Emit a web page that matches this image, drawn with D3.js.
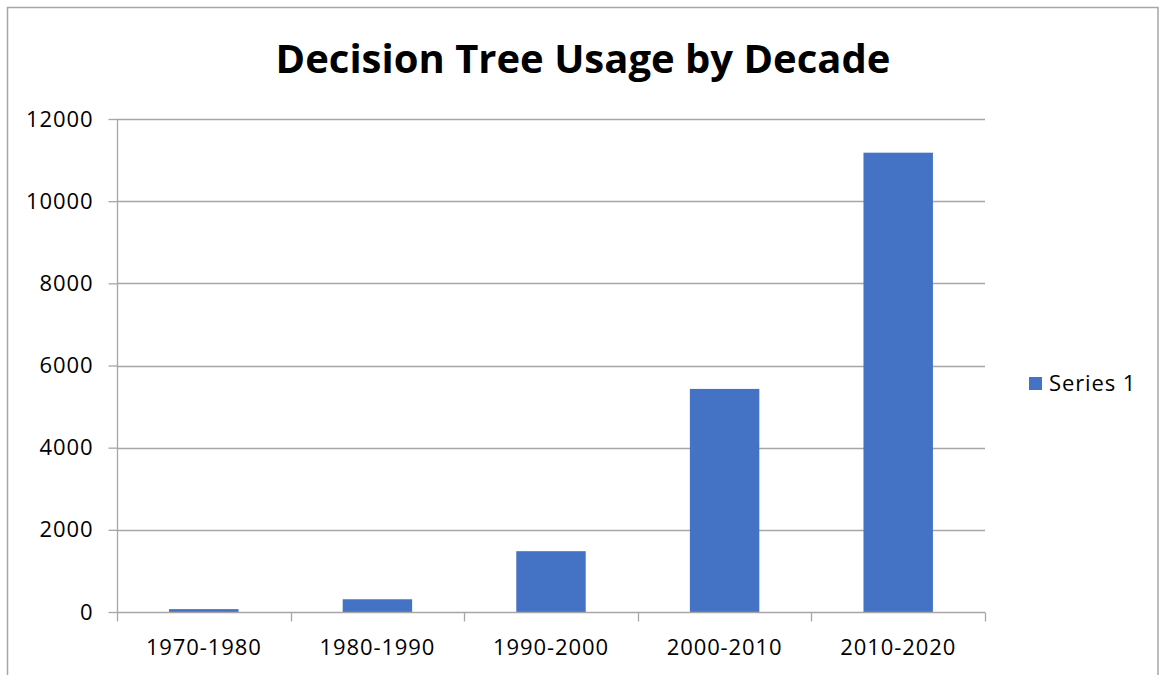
<!DOCTYPE html>
<html>
<head>
<meta charset="utf-8">
<script src="https://cdn.jsdelivr.net/npm/d3@7"></script>
<style>
  html, body { margin: 0; padding: 0; background: #fff; }
  svg { display: block; font-family: "Open Sans", "Liberation Sans", sans-serif; }
</style>
</head>
<body>
<svg id="chart" width="1161" height="675"></svg>
<script>
// Decision tree usage counts per decade
const decades = ["1970-1980", "1980-1990", "1990-2000", "2000-2010", "2010-2020"];
const usage = [70, 310, 1480, 5430, 11180];
const yTicks = [0, 2000, 4000, 6000, 8000, 10000, 12000];
const seriesName = "Series 1";
const chartTitle = "Decision Tree Usage by Decade";

const svg = d3.select("#chart");
const plot = { left: 117, right: 985, top: 119, bottom: 612 };
const barColor = "#4472C4";
const gridColor = "#A6A6A6";
const labelSize = 22;
const labelSpacing = "0.9px";

// outer chart frame
svg.append("rect")
  .attr("x", 7.5).attr("y", 7.5)
  .attr("width", 1150.5).attr("height", 680)
  .attr("fill", "#fff").attr("stroke", "#A6A6A6").attr("stroke-width", 1.5);

svg.append("text")
  .attr("x", 583).attr("y", 73)
  .attr("text-anchor", "middle")
  .attr("font-size", 40).attr("font-weight", 700)
  .attr("fill", "#000")
  .text(chartTitle);

const x = d3.scaleBand().domain(decades)
  .range([plot.left, plot.right]).paddingInner(0.6).paddingOuter(0.3);
const y = d3.scaleLinear().domain([0, 12000]).range([plot.bottom, plot.top]);

// horizontal gridlines
svg.append("g").selectAll("line").data(yTicks.filter(d => d > 0)).join("line")
  .attr("x1", plot.left).attr("x2", plot.right)
  .attr("y1", d => Math.round(y(d)) + 0.5).attr("y2", d => Math.round(y(d)) + 0.5)
  .attr("stroke", gridColor).attr("stroke-width", 1.3);

// bars
svg.append("g").selectAll("rect").data(decades).join("rect")
  .attr("x", d => x(d))
  .attr("width", x.bandwidth())
  .attr("y", (d, i) => y(usage[i]))
  .attr("height", (d, i) => y(0) - y(usage[i]))
  .attr("fill", barColor);

// y axis
const yAxis = d3.axisLeft(y).tickValues(yTicks).tickSize(9).tickPadding(15).tickFormat(d3.format("d"));
const gy = svg.append("g").attr("transform", `translate(${plot.left + 0.5},0)`).call(yAxis);
gy.select(".domain").attr("stroke", gridColor).attr("stroke-width", 1.3).attr("d", `M0,${plot.top}V${plot.bottom}`);
gy.selectAll(".tick line").attr("stroke", gridColor).attr("stroke-width", 1.3);
gy.selectAll(".tick text").attr("font-size", labelSize).attr("fill", "#000")
  .attr("letter-spacing", labelSpacing)
  .attr("font-family", "'Open Sans', sans-serif");

// x axis baseline with category boundary ticks
const xAxis = d3.axisBottom(x).tickSize(0).tickPadding(27);
const gx = svg.append("g").attr("transform", `translate(0,${plot.bottom + 0.5})`).call(xAxis);
gx.select(".domain").attr("stroke", gridColor).attr("stroke-width", 1.3).attr("d", `M${plot.left},0H${plot.right}`);
gx.selectAll(".tick text").attr("font-size", labelSize).attr("fill", "#000")
  .attr("letter-spacing", labelSpacing)
  .attr("font-family", "'Open Sans', sans-serif");
const bounds = d3.range(decades.length + 1).map(i => plot.left + i * (plot.right - plot.left) / decades.length);
gx.append("g").selectAll("line").data(bounds).join("line")
  .attr("x1", d => Math.round(d) + 0.5).attr("x2", d => Math.round(d) + 0.5)
  .attr("y1", 0).attr("y2", 9)
  .attr("stroke", gridColor).attr("stroke-width", 1.3);

// legend
const lg = svg.append("g").attr("transform", "translate(1029,377)");
lg.append("rect").attr("width", 13).attr("height", 13).attr("fill", barColor);
lg.append("text").attr("x", 20).attr("y", 14)
  .attr("font-size", labelSize).attr("letter-spacing", labelSpacing)
  .attr("fill", "#000").text(seriesName);
</script>
</body>
</html>
